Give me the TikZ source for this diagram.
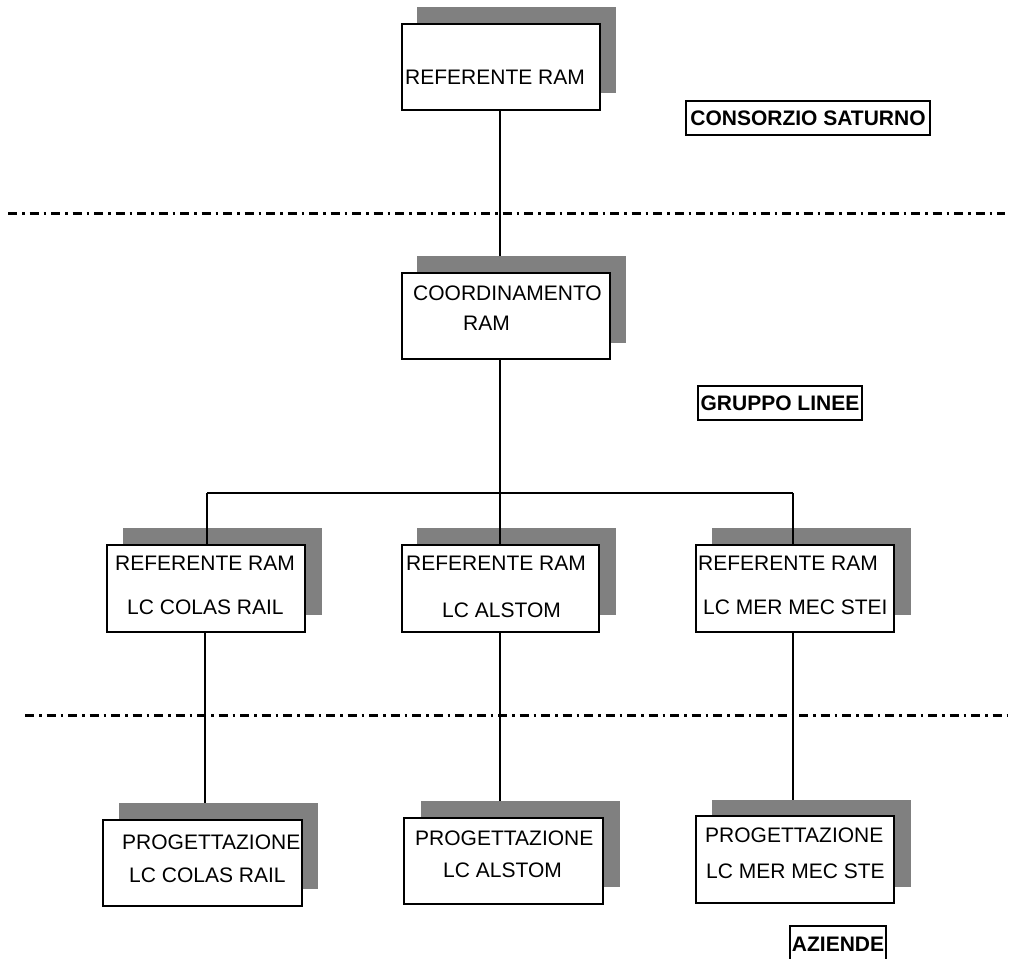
\documentclass[tikz,border=0pt]{standalone}
\usepackage{fontspec}
\setmainfont{Liberation Sans}
\definecolor{shadegray}{HTML}{808080}
\begin{document}
\begin{tikzpicture}[x=1pt,y=-1pt,
 box/.style={draw=black,fill=white,line width=1.3pt,inner sep=0pt,minimum width=198pt,minimum height=86pt},
 shadowbox/.style={fill=shadegray,draw=none,inner sep=0pt,minimum width=199pt,minimum height=86pt},
 txt/.style={anchor=west,inner sep=0pt,font=\fontsize{21}{25}\selectfont},
 tag/.style={draw=black,line width=1.3pt,inner sep=0pt,font=\bfseries\fontsize{21}{25}\selectfont},
 conn/.style={line width=1.4pt},
 sepline/.style={line width=3pt,dash pattern=on 9pt off 5pt on 2.5pt off 5pt}]
\useasboundingbox (0,0) rectangle (1013,959);

% separators
\coordinate (s1a) at (8,213);
\coordinate (s1b) at (1005,213);
\coordinate (s2a) at (25,715);
\coordinate (s2b) at (1008,715);
\draw[sepline] (s1a) -- (s1b);
\draw[sepline] (s2a) -- (s2b);

% shadows
\node[shadowbox] (top-s) at (516.5,50) {};
\node[shadowbox,minimum width=209pt,minimum height=87pt] (coord-s) at (521.5,299.5) {};
\node[shadowbox,minimum height=87pt] (midl-s) at (222.5,571.5) {};
\node[shadowbox,minimum height=87pt] (midc-s) at (516.5,571.5) {};
\node[shadowbox,minimum height=87pt] (midr-s) at (811.5,571.5) {};
\node[shadowbox] (botl-s) at (218.5,846) {};
\node[shadowbox] (botc-s) at (520.5,844) {};
\node[shadowbox,minimum height=87pt] (botr-s) at (811.5,843.5) {};

% boxes
\node[box] (top) at (501,67) {};
\node[box,minimum width=208pt] (coord) at (506,316) {};
\node[box,minimum height=87pt] (midl) at (206,588.5) {};
\node[box,minimum width=197pt,minimum height=87pt] (midc) at (500.5,588.5) {};
\node[box,minimum height=87pt] (midr) at (795,588.5) {};
\node[box,minimum width=199pt] (botl) at (202.5,863) {};
\node[box,minimum width=199pt] (botc) at (503.5,861) {};
\node[box,minimum height=87pt] (botr) at (795,859.5) {};

% connector guide coordinates
\coordinate (xc) at (500,493);
\coordinate (busL) at (207,493);
\coordinate (busR) at (793,493);
\coordinate (xl) at (205,700);
\coordinate (xr) at (793,700);

% connectors
\draw[conn] (top.south -| xc) -- (coord-s.north -| xc);
\draw[conn] (coord.south -| xc) -- (xc) -- (midc.north -| xc);
\draw[conn] (busL) -- (busR);
\draw[conn] (busL) -- (busL |- midl.north);
\draw[conn] (busR) -- (busR |- midr.north);
\draw[conn] (midl.south -| xl) -- (botl-s.north -| xl);
\draw[conn] (midc.south -| xc) -- (botc-s.north -| xc);
\draw[conn] (midr.south -| xr) -- (botr-s.north -| xr);

% texts
\node[txt] (t-top) at (405,77) {REFERENTE RAM};
\node[txt] (t-coord1) at (413,293) {COORDINAMENTO};
\node[txt] (t-coord2) at (463,323) {RAM};
\node[txt] (t-midl1) at (115,563) {REFERENTE RAM};
\node[txt] (t-midl2) at (127,607) {LC COLAS RAIL};
\node[txt] (t-midc1) at (406,563) {REFERENTE RAM};
\node[txt] (t-midc2) at (442,610) {LC ALSTOM};
\node[txt] (t-midr1) at (698,563) {REFERENTE RAM};
\node[txt] (t-midr2) at (703,607) {LC MER MEC STEI};
\node[txt] (t-botl1) at (122,842) {PROGETTAZIONE};
\node[txt] (t-botl2) at (129,875) {LC COLAS RAIL};
\node[txt] (t-botc1) at (415,838) {PROGETTAZIONE};
\node[txt] (t-botc2) at (443,870) {LC ALSTOM};
\node[txt] (t-botr1) at (705,835) {PROGETTAZIONE};
\node[txt] (t-botr2) at (706,871) {LC MER MEC STE};

% level tags
\node[tag,minimum width=244pt,minimum height=34pt] (consorzio) at (808,118) {CONSORZIO SATURNO};
\node[tag,minimum width=164pt,minimum height=34pt] (gruppo) at (780,403) {GRUPPO LINEE};
\node[tag,minimum width=96pt,minimum height=36pt] (aziende) at (838,944) {AZIENDE};
\end{tikzpicture}
\end{document}
